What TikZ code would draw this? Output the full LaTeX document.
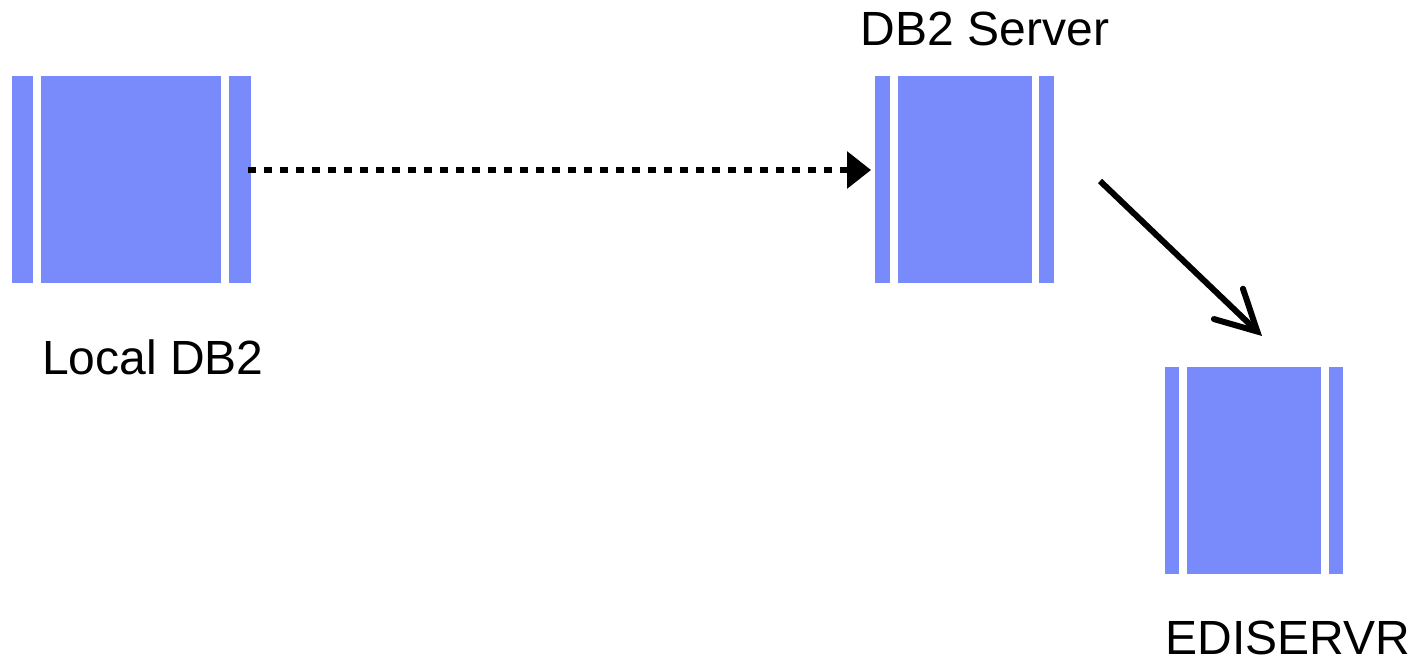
\documentclass[tikz,border=0pt]{standalone}
\usepackage{fontspec}
\setmainfont{Liberation Sans}
\usetikzlibrary{arrows.meta}
\definecolor{dbblue}{RGB}{121,138,250}
\tikzset{
  dbpart/.style={fill=dbblue, draw=none, inner sep=0pt, minimum height=207pt},
  lbl/.style={inner sep=0pt, font=\fontsize{48}{50}\selectfont},
  conn/.style={line width=6pt, black},
}
\begin{document}
\begin{tikzpicture}[x=1pt,y=-1pt]
\useasboundingbox (0,0) rectangle (1418,663);
% Local DB2
\node[dbpart, minimum width=21.5pt] (lA) at (22.5,179.5) {};
\node[dbpart, minimum width=180pt] (local) at (131,179.5) {};
\node[dbpart, minimum width=21.5pt] (lB) at (240,179.5) {};
\node[lbl] (localL) at (153,357) {Local DB2};
% DB2 Server
\node[dbpart, minimum width=14.5pt] (sA) at (882.5,179.5) {};
\node[dbpart, minimum width=134pt] (server) at (964.7,179.5) {};
\node[dbpart, minimum width=14.5pt] (sB) at (1046.6,179.5) {};
\node[lbl] (serverL) at (985,29) {DB2 Server};
% EDISERVR
\node[dbpart, minimum width=14pt] (eA) at (1172,470.5) {};
\node[dbpart, minimum width=133.7pt] (edi) at (1253.8,470.5) {};
\node[dbpart, minimum width=14.3pt] (eB) at (1335.8,470.5) {};
\node[lbl] (ediL) at (1288,638) {EDISERVR};
% connectors
\coordinate (d0) at ([xshift=-3pt]lB.east |- 0,170);
\coordinate (d1) at ([xshift=-4pt]sA.west |- 0,170);
\draw[conn, dash pattern=on 8pt off 8pt, -{Triangle[length=24pt,width=36pt]}] (d0) -- (d1);
\coordinate (s0) at (1100,181);
\coordinate (s1) at (1262,336);
\draw[conn, -{Straight Barb[length=40pt,width=42pt,line cap=round]}] (s0) -- (s1);
\end{tikzpicture}
\end{document}
